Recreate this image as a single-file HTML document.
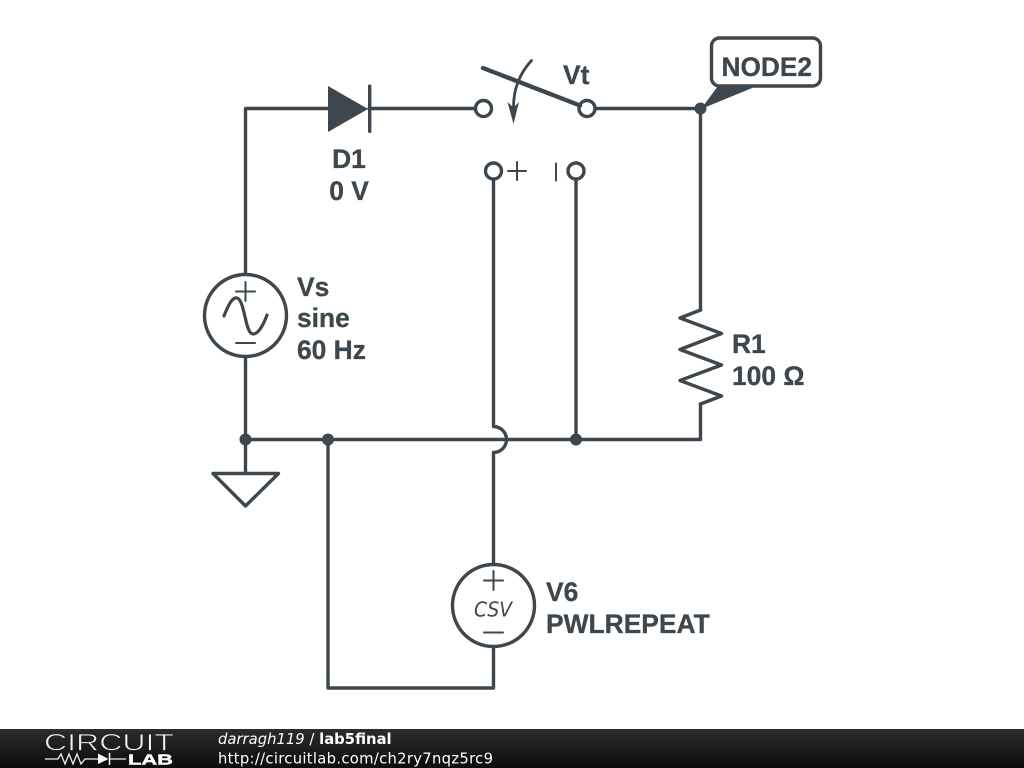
<!DOCTYPE html>
<html>
<head>
<meta charset="utf-8">
<style>
html,body{margin:0;padding:0;background:#fff;width:1024px;height:768px;overflow:hidden}
svg{display:block}
.l{font-family:"Liberation Sans",sans-serif;font-weight:bold;font-size:26.4px;fill:#3d474d;stroke:#3d474d;stroke-width:.3px}
.f{font-family:"DejaVu Sans",sans-serif;font-size:14.8px;fill:#fff}
</style>
</head>
<body>
<svg width="1024" height="768" viewBox="0 0 1024 768" xmlns="http://www.w3.org/2000/svg">
<defs>
<linearGradient id="g" x1="0" y1="0" x2="0" y2="1">
<stop offset="0" stop-color="#2c2c2c"/><stop offset="1" stop-color="#0c0c0c"/>
</linearGradient>
</defs>
<rect width="1024" height="768" fill="#fff"/>
<g fill="none" stroke="#3d474d" stroke-width="3.4" stroke-linejoin="round" stroke-linecap="round">
<!-- wires -->
<path d="M245.5 274V108.5H328M369 108.5H476"/>
<path d="M595 108.5H700.5V310"/>
<path d="M245.5 357V473"/>
<path d="M245.5 439.5H700.5V404"/>
<path d="M493.5 179V426.500A13 13 0 0 1 493.500 452.500V564"/>
<path d="M576 179V439.500"/>
<path d="M328 439.500V688H493.500V647"/>
<!-- resistor -->
<path d="M700.500 310L680 318L721.500 333.500L680 349.500L721.500 365L680 380.500L721.500 396L700.500 404"/>
<!-- ground -->
<path d="M213 473.500H278.500L245.500 506Z"/>
<!-- terminals -->
<circle cx="483.500" cy="108.500" r="8" fill="#fff"/>
<circle cx="587" cy="108.500" r="8" fill="#fff"/>
<circle cx="493.500" cy="171" r="8" fill="#fff"/>
<circle cx="576" cy="171" r="8" fill="#fff"/>
<!-- Vs -->
<circle cx="245.500" cy="315.500" r="41"/>
<path d="M236 291.500H255M245.500 282V301M236 343H255" stroke-width="2"/>
<path d="M224 316C229 303 233 297 237 298C245 300 245 334 253 334C258 334 263 326 267 315" stroke-width="3.2"/>
<!-- V6 -->
<circle cx="493.500" cy="605.500" r="41"/>
<path d="M484 580.500H503M493.500 571V590M484 632.500H503" stroke-width="2"/>
<!-- NODE2 -->
<rect x="711.500" y="38" width="109" height="48" rx="8"/>
<!-- switch -->
<path d="M483 68L580 105.500" stroke-width="4.400"/>
<path d="M531.500 60.500C520 73 513.500 88 513.500 107" stroke-width="2.800"/>
<path d="M508 171H526M517 162V180M556 163.500V180.500" stroke-width="2"/>
</g>
<g fill="#3d474d">
<path d="M328 86V132L368 109Z"/>
<rect x="368" y="84.500" width="3.400" height="48.500" rx="1.500"/>
<path d="M507.500 102L513.500 107.500L519 102L513.500 124Z"/>
<path d="M718 86H757L701 109Z"/>
<circle cx="245.500" cy="439.500" r="6"/>
<circle cx="328" cy="439.500" r="6"/>
<circle cx="576" cy="439.500" r="6"/>
<circle cx="700.500" cy="108.500" r="6"/>
</g>
<text class="l" x="349" y="168" text-anchor="middle">D1</text>
<text class="l" x="349" y="200" text-anchor="middle">0 V</text>
<text class="l" x="563" y="84">Vt</text>
<text class="l" x="297" y="296">Vs</text>
<text class="l" x="297" y="327">sine</text>
<text class="l" x="297" y="359">60 Hz</text>
<text class="l" x="732" y="353">R1</text>
<text class="l" x="732" y="385">100 Ω</text>
<text class="l" x="546" y="601">V6</text>
<text class="l" x="546" y="633">PWLREPEAT</text>
<text class="l" x="721.500" y="76" textLength="90.500" lengthAdjust="spacingAndGlyphs">NODE2</text>
<text x="474" y="616.500" textLength="38" lengthAdjust="spacingAndGlyphs" style="font-family:'DejaVu Sans',sans-serif;font-style:italic;font-size:20.500px" fill="#3d474d">CSV</text>
<!-- footer -->
<rect x="0" y="729" width="1024" height="39" fill="url(#g)"/>
<text x="44" y="750.500" textLength="130" lengthAdjust="spacingAndGlyphs" style="font-family:'Liberation Sans',sans-serif;font-size:24px;stroke:#1f1f1f;stroke-width:.7px" fill="#f2f2f2">CIRCUIT</text>
<text x="128" y="764.500" textLength="45" lengthAdjust="spacingAndGlyphs" style="font-family:'Liberation Sans',sans-serif;font-weight:bold;font-size:14.500px;stroke:#fff;stroke-width:.4px" fill="#fff">LAB</text>
<path d="M45 759H58L61 754L65 764L69 754L73 764L77 754L81 764L85 759H99M110 759H126" fill="none" stroke="#eee" stroke-width="1.300"/>
<path d="M98 753.500V764L108.500 759Z" fill="#fff"/>
<path d="M109.500 753V765" stroke="#fff" stroke-width="1.500"/>
<text class="f" x="218" y="744"><tspan font-style="italic">darragh119</tspan> / <tspan font-weight="bold">lab5final</tspan></text>
<text class="f" x="218" y="763.500" textLength="275">http://circuitlab.com/ch2ry7nqz5rc9</text>
</svg>
</body>
</html>
